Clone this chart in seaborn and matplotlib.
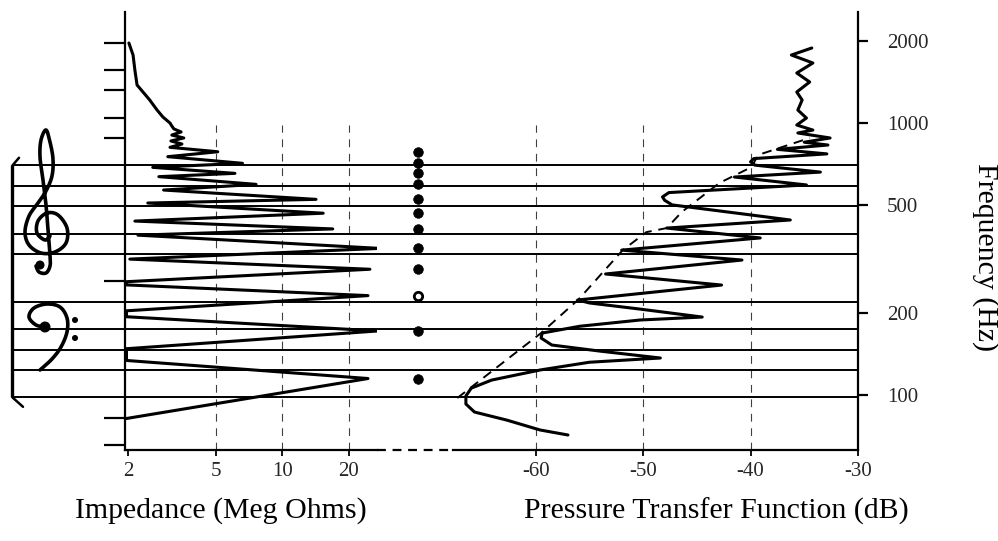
import numpy as np
import matplotlib
matplotlib.use("Agg")
import matplotlib.pyplot as plt
from matplotlib.ticker import NullLocator
from matplotlib.patches import Circle
import seaborn as sns

# ---------------- data ----------------
# Input impedance of the string/bridge system (Meg Ohms) vs frequency (Hz)
imp_freq = [82, 115, 134, 148, 172, 194, 204, 232, 254, 261, 290, 316, 346, 387,
            408, 436, 466, 508, 524, 567, 595, 635, 653, 687, 711, 752, 784, 814,
            837, 859, 881, 903, 927, 951, 975, 1000, 1052, 1116, 1215, 1300, 1379,
            1566, 1778, 1968]
imp_mohm = [1.97, 24.4, 1.97, 1.97, 27.0, 1.97, 1.97, 24.4, 1.97, 1.97, 24.9, 2.04,
            27.6, 2.22, 16.9, 2.15, 15.3, 2.46, 14.2, 2.9, 7.6, 2.76, 6.1, 2.59, 6.6,
            3.03, 5.1, 3.10, 3.51, 3.13, 3.58, 3.16, 3.48, 3.23, 3.16, 3.10, 2.88,
            2.71, 2.51, 2.34, 2.20, 2.15, 2.11, 2.02]

# Pressure transfer function (dB) vs frequency (Hz)
ptf_freq = [71.3, 74.4, 80.9, 86.6, 92.7, 99.2, 106, 113.5, 123.6, 132, 136.8, 145,
            152.7, 162, 169, 179, 188.7, 193.5, 207, 218, 223.5, 253.7, 278.6, 313.5,
            341, 378, 411, 440, 500, 520, 535, 555, 592, 633, 660, 700, 720, 740, 770,
            800, 830, 850, 881, 919, 942, 983, 1043, 1116, 1215, 1300, 1415, 1527,
            1662, 1778, 1887]
ptf_db = [-57.0, -59.6, -62.7, -65.7, -66.5, -66.5, -66.0, -64.1, -59.6, -55.0,
          -48.4, -54.0, -58.5, -59.5, -59.4, -55.9, -50.3, -44.5, -50.3, -55.0,
          -56.1, -42.7, -53.5, -40.8, -52.0, -39.1, -47.8, -36.3, -47.3, -48.0,
          -48.2, -47.6, -34.8, -41.5, -33.5, -39.6, -40.0, -39.7, -32.9, -37.5,
          -32.8, -35.0, -32.6, -35.6, -34.2, -35.7, -34.8, -35.6, -35.2, -35.7,
          -34.5, -35.7, -34.2, -36.2, -34.3]

# Lower envelope of the transfer function (dashed)
env_freq = [97.5, 169, 225, 341, 397, 411, 471, 602, 689, 763, 881]
env_db = [-67.3, -59.5, -56.0, -51.9, -49.7, -47.8, -46.4, -42.9, -39.9, -39.3, -34.5]

# Impedance peak frequencies (dots); the open one is marked separately
peak_freq = [784, 711, 653, 595, 524, 466, 408, 346, 290, 232, 172, 115]
peak_open = [False, False, False, False, False, False, False, False, False, True,
             False, False]

# Staff lines (Hz): treble E4 G4 B4 D5 F5, bass G2 B2 D3 F3 A3
staff_treble = [329.6, 392.0, 493.9, 587.3, 698.5]
staff_bass = [98.0, 123.5, 146.8, 174.6, 220.0]
# Ledger-line positions marked on the left axis (Hz)
ledger_freq = [65.4, 82.4, 261.6, 880.0, 1046.5, 1318.5, 1568.0, 1975.5]

imp_ticks = [2, 5, 10, 20]
imp_ticklabels = ["2", "5", "10", "20"]
db_ticks = [-60, -50, -40, -30]
db_ticklabels = ["-60", "-50", "-40", "-30"]
freq_ticks = [100, 200, 500, 1000, 2000]
freq_ticklabels = ["100", "200", "500", "1000", "2000"]

# ---------------- layout ----------------
sns.set_theme(style="white")
plt.rcParams["font.family"] = ["Liberation Serif", "DejaVu Serif"]

W, H = 998, 541
fig = plt.figure(figsize=(W / 100, H / 100), dpi=100)
fig.patch.set_facecolor("white")


def box(x0, x1, y0=12, y1=450):
    """Pixel rectangle (top-left origin) -> figure fraction."""
    return [x0 / W, (H - y1) / H, (x1 - x0) / W, (y1 - y0) / H]


FMIN, FMAX = 62.8, 2559
INK = "black"
LW_CURVE = 2.2
LW_AX = 1.6
GRID = dict(colors="0.25", lw=0.8, linestyles=(0, (7, 6)))

ax_l = fig.add_axes(box(125, 377))
ax_r = fig.add_axes(box(453, 858))
for a in (ax_l, ax_r):
    a.set_facecolor("none")
    a.set_yscale("log")
    a.set_ylim(FMIN, FMAX)
    a.yaxis.set_minor_locator(NullLocator())

# ---- impedance panel ----
ax_l.vlines(imp_ticks[1:], FMIN, 980, **GRID)
sns.lineplot(x=imp_mohm, y=imp_freq, sort=False, estimator=None, color=INK,
             lw=LW_CURVE, ax=ax_l)
ax_l.set_xscale("log")
ax_l.set_xlim(1.94, 26.8)
ax_l.xaxis.set_minor_locator(NullLocator())
ax_l.set_xticks(imp_ticks, imp_ticklabels)
ax_l.set_yticks(ledger_freq, [""] * len(ledger_freq))
for s in ("top", "right"):
    ax_l.spines[s].set_visible(False)
for s in ("left", "bottom"):
    ax_l.spines[s].set_color(INK)
    ax_l.spines[s].set_linewidth(LW_AX)
ax_l.tick_params(axis="y", left=True, length=15, width=1.6, color=INK, direction="out")
ax_l.tick_params(axis="x", bottom=True, length=4, width=1.3, color=INK,
                 direction="out", labelsize=15, pad=5)
ax_l.set_xlabel("")
ax_l.set_ylabel("")

# ---- transfer function panel ----
ax_r.vlines(db_ticks[:-1], FMIN, 980, **GRID)
sns.lineplot(x=env_db, y=env_freq, sort=False, estimator=None, color=INK,
             lw=1.4, ax=ax_r, linestyle=(0, (5, 3.5)))
sns.lineplot(x=ptf_db, y=ptf_freq, sort=False, estimator=None, color=INK,
             lw=LW_CURVE, ax=ax_r)
ax_r.set_xlim(-67.7, -30)
ax_r.set_xticks(db_ticks, db_ticklabels)
ax_r.yaxis.tick_right()
ax_r.set_yticks(freq_ticks, freq_ticklabels)
for s in ("top", "left"):
    ax_r.spines[s].set_visible(False)
for s in ("right", "bottom"):
    ax_r.spines[s].set_color(INK)
    ax_r.spines[s].set_linewidth(LW_AX)
ax_r.tick_params(axis="y", right=True, left=False, length=7, width=1.6, color=INK,
                 direction="out", labelsize=15, pad=14)
ax_r.tick_params(axis="x", bottom=True, length=4, width=1.3, color=INK,
                 direction="out", labelsize=15, pad=5)
ax_r.set_xlabel("")
ax_r.set_ylabel("")

# ---- staff overlay (shares the log frequency scale) ----
ax_s = fig.add_axes(box(0, W))
ax_s.set_yscale("log")
ax_s.set_ylim(FMIN, FMAX)
ax_s.set_xlim(0, W)
ax_s.axis("off")
ax_s.patch.set_visible(False)
ax_s.hlines(staff_treble + staff_bass, 13, 858, colors=INK, lw=1.4)
# bracket joining the two staves
ax_s.plot([12.5, 12.5], [staff_bass[0], staff_treble[-1]], color=INK, lw=2.4,
          solid_capstyle="butt")
ax_s.plot([12.5, 19], [staff_treble[-1], 745], color=INK, lw=1.8)
ax_s.plot([12.5, 23], [staff_bass[0], 90.5], color=INK, lw=1.8)
# broken baseline between the panels
ax_s.plot([377, 453], [FMIN, FMIN], color=INK, lw=1.6, ls=(0, (4, 3)), clip_on=False)

# resonance markers
filled = [f for f, o in zip(peak_freq, peak_open) if not o]
opened = [f for f, o in zip(peak_freq, peak_open) if o]
sns.scatterplot(x=[418] * len(filled), y=filled, ax=ax_s, color=INK, s=48,
                edgecolor=INK, linewidth=0.5, zorder=5, legend=False)
sns.scatterplot(x=[418] * len(opened), y=opened, ax=ax_s, color="white", s=36,
                edgecolor=INK, linewidth=2.0, zorder=5, legend=False)
ax_s.set_xlabel("")
ax_s.set_ylabel("")

# ---- clefs (pixel coordinates) ----
ax_d = fig.add_axes([0, 0, 1, 1])
ax_d.set_xlim(0, W)
ax_d.set_ylim(H, 0)
ax_d.axis("off")
ax_d.patch.set_visible(False)


def smooth(pts, n=14):
    p = np.asarray(pts, float)
    p = np.vstack([p[0], p, p[-1]])
    t = np.linspace(0, 1, n, endpoint=False)[:, None]
    out = []
    for i in range(1, len(p) - 2):
        p0, p1, p2, p3 = p[i - 1], p[i], p[i + 1], p[i + 2]
        out.append(0.5 * (2 * p1 + (-p0 + p2) * t
                          + (2 * p0 - 5 * p1 + 4 * p2 - p3) * t ** 2
                          + (-p0 + 3 * p1 - 3 * p2 + p3) * t ** 3))
    out.append(p[-2][None])
    return np.vstack(out)


treble = [(50, 236), (45, 240), (37, 233), (38, 221), (47, 213), (58, 215),
          (67, 228), (66, 243), (55, 252), (41, 253), (29, 245), (25, 232),
          (29, 216), (38, 203), (46, 191), (52, 176), (53, 159), (50, 142),
          (46, 130), (41, 140), (40, 157), (43, 180), (46, 205), (48, 230),
          (50, 255), (50, 266), (46, 273), (39, 272), (36, 266)]
c = smooth(treble)
ax_d.plot(c[:, 0], c[:, 1], color=INK, lw=2.6, solid_capstyle="round")
ax_d.add_patch(Circle((40, 265), 3.8, color=INK))

bass = [(46, 327), (36, 325), (29, 317), (34, 308), (47, 304), (60, 307),
        (67, 318), (67, 332), (61, 347), (52, 359), (40, 370)]
c = smooth(bass)
ax_d.plot(c[:, 0], c[:, 1], color=INK, lw=2.6, solid_capstyle="round")
ax_d.add_patch(Circle((45, 327), 4.8, color=INK))
ax_d.add_patch(Circle((75, 320), 2.3, color=INK))
ax_d.add_patch(Circle((75, 338), 2.3, color=INK))

# ---- axis titles ----
fig.text(221 / W, 1 - 511 / H, "Impedance (Meg Ohms)", ha="center", va="center",
         fontsize=21.5, color=INK)
fig.text(716 / W, 1 - 511 / H, "Pressure Transfer Function (dB)", ha="center",
         va="center", fontsize=21.5, color=INK)
fig.text(985 / W, 1 - 257 / H, "Frequency (Hz)", ha="center", va="center",
         rotation=270, fontsize=21.5, color=INK)

fig.savefig("out.png", dpi=100, facecolor="white")
